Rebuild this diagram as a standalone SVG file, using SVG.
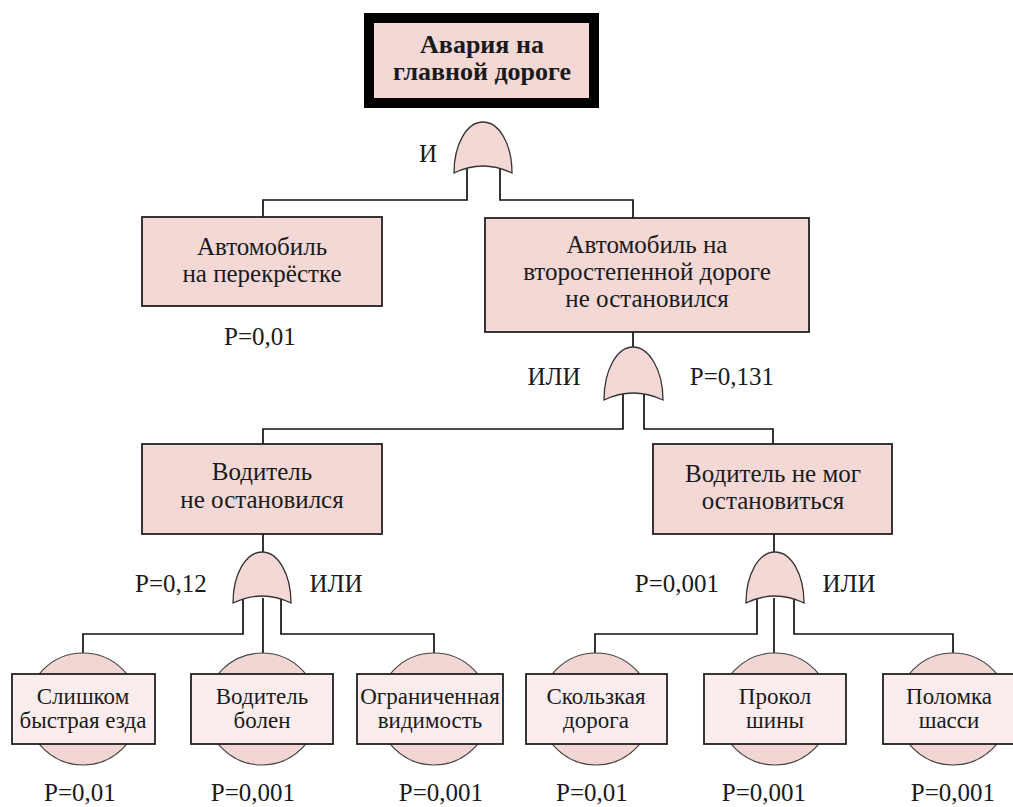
<svg xmlns="http://www.w3.org/2000/svg" width="1013" height="807" viewBox="0 0 1013 807">
<defs>
<style>
text{fill:#1a1a1a;text-anchor:middle}
.box{fill:#f3d8d6;stroke:#222;stroke-width:1.8}
.top{fill:#f3d8d6;stroke:#000;stroke-width:10}
.gate{fill:#f3d8d6;stroke:#333;stroke-width:1.3}
.circ{fill:#f1d6d4;stroke:#444;stroke-width:1.2}
.leaf{fill:#fbeded;stroke:#222;stroke-width:1.8}
.t1{font-size:26px;font-weight:bold}
.t2{font-size:25px}
.t3{font-size:23px}
.lbl{font-size:25px}
.conn{fill:none;stroke:#111;stroke-width:1.7}
</style>
</defs>
<rect width="1013" height="807" fill="#fff"/>
<g id="connectors" class="conn">
<path d="M467,168 V200 H263 V217"/>
<path d="M500,168 V200 H633 V218"/>
<path d="M633,332 V347"/>
<path d="M623,394 V429 H263 V444"/>
<path d="M644,394 V429 H773 V444"/>
<path d="M263,534 V552"/>
<path d="M774,534 V552"/>
<path d="M243,598 V634 H83 V653"/>
<path d="M263,598 V653"/>
<path d="M281,598 V634 H434 V653"/>
<path d="M757,598 V634 H595 V653"/>
<path d="M774,598 V653"/>
<path d="M794,598 V634 H953 V653"/>
</g>
<g font-family="Liberation Serif">
<g id="top-event">
<rect class="top" x="369" y="18" width="225" height="85"/>
<text class="t1" x="482" y="53">Авария на</text>
<text class="t1" x="482" y="80">главной дороге</text>
</g>
<g id="gate-and">
<path class="gate" d="M454,173 C454,144 467,122 483,122 C499,122 512,144 512,173 Q483,159 454,173 Z"/>
<text class="lbl" x="428" y="162">И</text>
</g>
<g id="car-at-crossing">
<rect class="box" x="142" y="217" width="240" height="89"/>
<text class="t2" x="262" y="255">Автомобиль</text>
<text class="t2" x="262" y="282">на перекрёстке</text>
<text class="lbl" x="260" y="345">P=0,01</text>
</g>
<g id="car-not-stopped">
<rect class="box" x="485" y="218" width="324" height="114"/>
<text class="t2" x="647" y="253">Автомобиль на</text>
<text class="t2" x="647" y="280">второстепенной дороге</text>
<text class="t2" x="647" y="307">не остановился</text>
</g>
<g id="gate-or-1">
<path class="gate" d="M604,400 C604,370 617,347 633,347 C649,347 663,370 663,400 Q633,386 604,400 Z"/>
<text class="lbl" x="554" y="385">ИЛИ</text>
<text class="lbl" x="732" y="385">P=0,131</text>
</g>
<g id="driver-not-stopped">
<rect class="box" x="142" y="444" width="240" height="90"/>
<text class="t2" x="262" y="480">Водитель</text>
<text class="t2" x="262" y="508">не остановился</text>
</g>
<g id="driver-could-not-stop">
<rect class="box" x="653" y="444" width="239" height="90"/>
<text class="t2" x="773" y="482">Водитель не мог</text>
<text class="t2" x="773" y="509">остановиться</text>
</g>
<g id="gate-or-2">
<path class="gate" d="M233,603 C233,574 246,552 262,552 C278,552 291,574 291,603 Q262,589 233,603 Z"/>
<text class="lbl" x="171" y="592">P=0,12</text>
<text class="lbl" x="336" y="592">ИЛИ</text>
</g>
<g id="gate-or-3">
<path class="gate" d="M746,603 C746,574 759,552 775,552 C791,552 804,574 804,603 Q775,589 746,603 Z"/>
<text class="lbl" x="677" y="592">P=0,001</text>
<text class="lbl" x="849" y="592">ИЛИ</text>
</g>
<g id="leaf-speeding">
<circle class="circ" cx="83" cy="709" r="56"/>
<rect class="leaf" x="12" y="674" width="143" height="70"/>
<text class="t3" x="83" y="704">Слишком</text>
<text class="t3" x="83" y="728">быстрая езда</text>
<text class="lbl" x="80" y="801">P=0,01</text>
</g>
<g id="leaf-driver-ill">
<circle class="circ" cx="262" cy="709" r="56"/>
<rect class="leaf" x="191" y="674" width="142" height="70"/>
<text class="t3" x="262" y="704">Водитель</text>
<text class="t3" x="262" y="728">болен</text>
<text class="lbl" x="253" y="801">P=0,001</text>
</g>
<g id="leaf-visibility">
<circle class="circ" cx="434" cy="709" r="56"/>
<rect class="leaf" x="357" y="674" width="146" height="70"/>
<text class="t3" x="430" y="704">Ограниченная</text>
<text class="t3" x="430" y="728">видимость</text>
<text class="lbl" x="441" y="801">P=0,001</text>
</g>
<g id="leaf-slippery">
<circle class="circ" cx="596" cy="709" r="56"/>
<rect class="leaf" x="526" y="674" width="141" height="70"/>
<text class="t3" x="596" y="704">Скользкая</text>
<text class="t3" x="596" y="728">дорога</text>
<text class="lbl" x="592" y="801">P=0,01</text>
</g>
<g id="leaf-puncture">
<circle class="circ" cx="775" cy="709" r="56"/>
<rect class="leaf" x="704" y="674" width="142" height="70"/>
<text class="t3" x="775" y="704">Прокол</text>
<text class="t3" x="775" y="728">шины</text>
<text class="lbl" x="764" y="801">P=0,001</text>
</g>
<g id="leaf-chassis">
<circle class="circ" cx="953" cy="709" r="56"/>
<rect class="leaf" x="883" y="674" width="142" height="70"/>
<text class="t3" x="949" y="704">Поломка</text>
<text class="t3" x="949" y="728">шасси</text>
<text class="lbl" x="953" y="801">P=0,001</text>
</g>
</g>
</svg>
